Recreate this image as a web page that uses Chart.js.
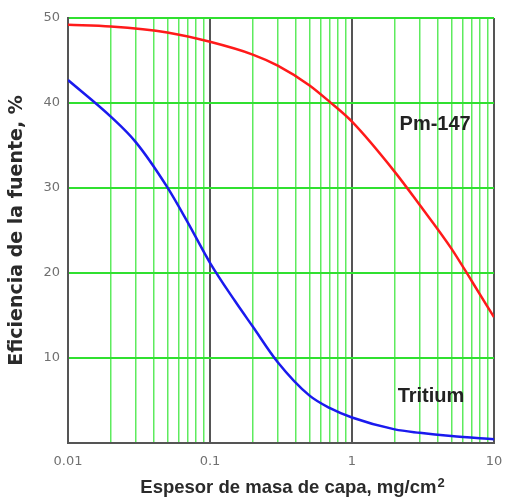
<!DOCTYPE html>
<html>
<head>
<meta charset="utf-8">
<script src="https://cdn.jsdelivr.net/npm/chart.js@4.4.0/dist/chart.umd.min.js"></script>
<style>
  html, body { margin: 0; padding: 0; background: #fff; }
  #wrap { width: 506px; height: 499px; }
</style>
</head>
<body>
<div id="wrap"><canvas id="grafico" width="506" height="499"></canvas></div>
<script>
// Datos (eficiencia en %)
var pmX = [0.01, 0.02, 0.05, 0.1, 0.2, 0.3, 0.5, 0.7, 1, 2, 3, 5, 7, 10];
var pmY = [49.2, 49.0, 48.3, 47.2, 45.7, 44.4, 42.1, 40.1, 37.8, 31.9, 28.0, 22.9, 19.0, 14.8];

var triX = [0.01, 0.02, 0.03, 0.05, 0.07, 0.1, 0.15, 0.2, 0.3, 0.5, 0.7, 1, 2, 3, 5, 10];
var triY = [42.7, 38.4, 35.4, 30.1, 25.9, 21.2, 16.7, 13.7, 9.5, 5.6, 4.1, 3.0, 1.6, 1.2, 0.82, 0.45];

// Ejes
var xDecades = [0.01, 0.1, 1, 10];
var xTickLabels = ['0.01', '0.1', '1', '10'];
var xMultipliers = [1, 2, 3, 4, 5, 6, 7, 8, 9];
var yTicks = [0, 10, 20, 30, 40, 50];
var yTickLabels = ['', '10', '20', '30', '40', '50'];

// Títulos y nombres de las curvas
var xTitle = 'Espesor de masa de capa, mg/cm';
var xTitleSup = '2';
var yTitle = 'Eficiencia de la fuente, %';
var curveNames = ['Pm-147', 'Tritium'];
var nameX = [3.85, 3.6];
var nameY = [37.5, 5.5];

function toPoints(xs, ys) {
    return xs.map(function (x, i) { return { x: x, y: ys[i] }; });
}

function isDecade(v) {
    var l = Math.log10(v);
    return Math.abs(l - Math.round(l)) < 1e-9;
}

// valores de las líneas verticales de la cuadrícula
var xGrid = [];
for (var d = 0; d < xDecades.length - 1; d++) {
    xMultipliers.forEach(function (m) {
        xGrid.push(parseFloat((m * xDecades[d]).toPrecision(6)));
    });
}
xGrid.push(xDecades[xDecades.length - 1]);

var green = 'rgba(40, 228, 40, 0.75)';
var greenH = '#30e030';
var dark = '#555555';

var textPlugin = {
    id: 'textos',
    afterDatasetsDraw: function (chart) {
        var ctx = chart.ctx;
        var xs = chart.scales.x, ys = chart.scales.y;
        var area = chart.chartArea;
        ctx.save();
        // nombres de las curvas
        ctx.font = 'bold 20px "Liberation Sans", Arial, sans-serif';
        ctx.fillStyle = '#222';
        ctx.textAlign = 'center';
        ctx.textBaseline = 'middle';
        curveNames.forEach(function (name, i) {
            ctx.fillText(name, xs.getPixelForValue(nameX[i]), ys.getPixelForValue(nameY[i]));
        });
        // título del eje x con superíndice
        var mainFont = 'bold 18.5px "Liberation Sans", Arial, sans-serif';
        var supFont = 'bold 13px "Liberation Sans", Arial, sans-serif';
        ctx.font = mainFont;
        var w1 = ctx.measureText(xTitle).width;
        ctx.font = supFont;
        var w2 = ctx.measureText(xTitleSup).width;
        var cx = (area.left + area.right) / 2 + 11;
        var x0 = cx - (w1 + w2) / 2;
        var by = chart.height - 6;
        ctx.textAlign = 'left';
        ctx.textBaseline = 'alphabetic';
        ctx.fillStyle = '#2a2a2a';
        ctx.font = mainFont;
        ctx.fillText(xTitle, x0, by);
        ctx.font = supFont;
        ctx.fillText(xTitleSup, x0 + w1 + 1, by - 6);
        ctx.restore();
    }
};

var ctx = document.getElementById('grafico').getContext('2d');

var data = {
    datasets: [{
        label: 'Pm-147',
        data: toPoints(pmX, pmY),
        borderColor: '#ff1a1a',
        borderWidth: 2.5,
        pointRadius: 0,
        cubicInterpolationMode: 'monotone'
    }, {
        label: 'Tritium',
        data: toPoints(triX, triY),
        borderColor: '#1a1aee',
        borderWidth: 2.5,
        pointRadius: 0,
        cubicInterpolationMode: 'monotone'
    }]
};

var options = {
    responsive: false,
    animation: false,
    layout: { padding: { top: 18, right: 12, left: 0, bottom: 0 } },
    plugins: {
        legend: { display: false },
        tooltip: { enabled: false }
    },
    scales: {
        x: {
            type: 'logarithmic',
            min: 0.01,
            max: 10,
            afterBuildTicks: function (scale) {
                scale.ticks = xGrid.map(function (v) { return { value: v }; });
            },
            afterFit: function (scale) {
                scale.height = 56;
                scale.paddingLeft = 0;
                scale.paddingRight = 0;
            },
            border: { color: dark, width: 2 },
            grid: {
                drawTicks: false,
                color: function (c) { return isDecade(c.tick.value) ? dark : green; },
                lineWidth: function (c) { return isDecade(c.tick.value) ? 2 : 1.5; }
            },
            ticks: {
                autoSkip: false,
                maxRotation: 0,
                padding: 11,
                color: '#707070',
                font: { family: '"DejaVu Sans", sans-serif', size: 13 },
                callback: function (value) {
                    var k = xDecades.findIndex(function (d) { return Math.abs(d - value) < 1e-9; });
                    return k >= 0 ? xTickLabels[k] : '';
                }
            }
        },
        y: {
            min: 0,
            max: 50,
            afterBuildTicks: function (scale) {
                scale.ticks = yTicks.map(function (v) { return { value: v }; });
            },
            afterFit: function (scale) {
                scale.width = 68;
                scale.paddingTop = 0;
                scale.paddingBottom = 0;
            },
            border: { color: dark, width: 2 },
            grid: {
                drawTicks: false,
                color: greenH,
                lineWidth: 2
            },
            ticks: {
                padding: 8,
                color: '#707070',
                font: { family: '"DejaVu Sans", sans-serif', size: 13 },
                callback: function (value) {
                    var k = yTicks.indexOf(value);
                    return k >= 0 ? yTickLabels[k] : '';
                }
            },
            title: {
                display: true,
                text: yTitle,
                color: '#2a2a2a',
                font: { family: '"DejaVu Sans", sans-serif', size: 19, weight: 'bold' },
                padding: { top: 6, bottom: 0 }
            }
        }
    }
};

var grafico = new Chart(ctx, {
    type: 'line',
    data: data,
    options: options,
    plugins: [textPlugin]
});
</script>
</body>
</html>
